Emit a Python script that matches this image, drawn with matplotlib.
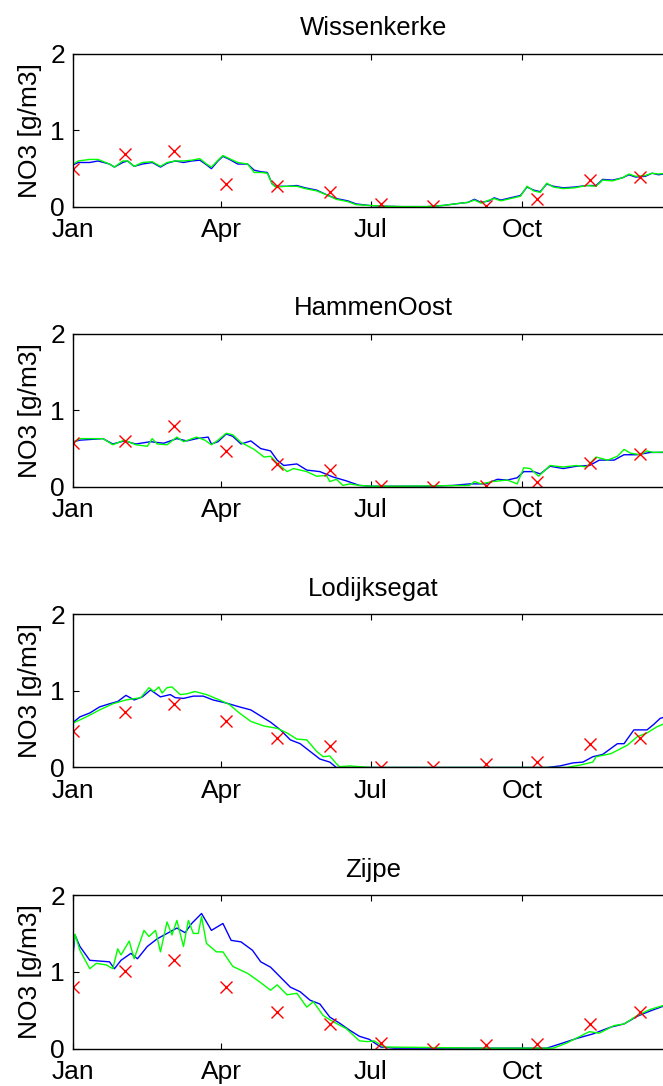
import matplotlib
matplotlib.use("Agg")
import matplotlib.pyplot as plt

plt.rcParams['font.family'] = ['Liberation Sans', 'DejaVu Sans']

stations = ["Wissenkerke", "HammenOost", "Lodijksegat", "Zijpe"]
month_days = [0, 90, 181, 273]
month_labels = ["Jan", "Apr", "Jul", "Oct"]

# measurement days (roughly monthly samples)
obs_days = [0, 31.5, 61, 93, 124, 156, 187, 219, 251, 282, 314, 345]

# --- Wissenkerke ---
w_blue_days = [0, 3, 10, 15, 22, 25, 30, 33, 37, 42, 48, 53, 57, 62, 67, 72, 77, 81, 84, 88,
               91, 95, 100, 106, 110, 114, 118, 121, 123, 130, 136, 141, 148, 155, 160, 167,
               172, 180, 190, 200, 215, 225, 232, 240, 244, 248, 253, 256, 260, 266, 272, 276,
               280, 284, 288, 292, 298, 305, 312, 318, 322, 328, 334, 338, 342, 348, 352, 356, 365]
w_blue = [0.55, 0.58, 0.58, 0.60, 0.56, 0.52, 0.58, 0.60, 0.53, 0.56, 0.58, 0.52, 0.57, 0.60,
          0.58, 0.60, 0.61, 0.55, 0.50, 0.60, 0.66, 0.62, 0.56, 0.56, 0.48, 0.46, 0.45, 0.30,
          0.27, 0.27, 0.28, 0.25, 0.22, 0.15, 0.11, 0.08, 0.04, 0.02, 0.01, 0.005, 0.005, 0.02,
          0.04, 0.06, 0.10, 0.06, 0.08, 0.12, 0.09, 0.12, 0.15, 0.26, 0.22, 0.20, 0.30, 0.27,
          0.25, 0.26, 0.28, 0.28, 0.36, 0.35, 0.38, 0.42, 0.39, 0.40, 0.44, 0.42, 0.45]
w_green = [0.56, 0.60, 0.62, 0.62, 0.56, 0.52, 0.60, 0.60, 0.53, 0.58, 0.59, 0.53, 0.58, 0.60,
           0.60, 0.61, 0.63, 0.56, 0.52, 0.61, 0.67, 0.63, 0.58, 0.56, 0.45, 0.45, 0.44, 0.30,
           0.26, 0.27, 0.27, 0.24, 0.21, 0.15, 0.10, 0.07, 0.03, 0.02, 0.01, 0.005, 0.005, 0.02,
           0.04, 0.06, 0.09, 0.05, 0.09, 0.11, 0.08, 0.11, 0.14, 0.27, 0.21, 0.19, 0.31, 0.26,
           0.24, 0.25, 0.28, 0.27, 0.35, 0.34, 0.38, 0.43, 0.40, 0.41, 0.44, 0.43, 0.45]
w_obs = [0.50, 0.69, 0.73, 0.30, 0.27, 0.20, 0.035, 0.01, 0.01, 0.10, 0.35, 0.39]

# --- HammenOost ---
h_blue_days = [0, 4, 18, 24, 31, 38, 47, 55, 63, 69, 75, 82, 84, 88, 93, 97, 102, 108, 114,
               120, 124, 128, 136, 142, 150, 158, 166, 174, 181, 187, 201, 215, 231, 241, 251,
               258, 264, 270, 274, 280, 284, 290, 298, 306, 314, 320, 329, 335, 343, 351, 365]
h_blue = [0.59, 0.61, 0.63, 0.56, 0.60, 0.56, 0.59, 0.57, 0.63, 0.60, 0.63, 0.65, 0.56, 0.59,
          0.69, 0.66, 0.56, 0.60, 0.50, 0.47, 0.35, 0.28, 0.30, 0.22, 0.20, 0.13, 0.08, 0.02,
          0.01, 0.01, 0.01, 0.01, 0.02, 0.04, 0.04, 0.10, 0.09, 0.12, 0.20, 0.20, 0.17, 0.27,
          0.24, 0.27, 0.28, 0.35, 0.35, 0.42, 0.42, 0.45, 0.45]
h_green_days = [0, 4, 18, 24, 31, 38, 45, 48, 51, 57, 63, 67, 75, 80, 84, 88, 93, 97, 102, 110,
                116, 120, 124, 130, 134, 142, 148, 154, 156, 160, 164, 168, 174, 181, 201, 241,
                244, 248, 255, 264, 270, 274, 278, 283, 290, 298, 306, 312, 318, 325, 331, 335,
                339, 345, 349, 353, 365]
h_green = [0.58, 0.63, 0.63, 0.55, 0.61, 0.55, 0.53, 0.63, 0.56, 0.55, 0.65, 0.59, 0.65, 0.61,
           0.55, 0.61, 0.70, 0.68, 0.58, 0.49, 0.39, 0.40, 0.31, 0.20, 0.24, 0.20, 0.14, 0.15,
           0.07, 0.10, 0.02, 0.04, 0.02, 0.01, 0.01, 0.02, 0.07, 0.04, 0.07, 0.09, 0.04, 0.25,
           0.24, 0.14, 0.28, 0.26, 0.28, 0.26, 0.39, 0.35, 0.40, 0.49, 0.44, 0.42, 0.47, 0.45,
           0.46]
h_obs = [0.57, 0.60, 0.80, 0.47, 0.30, 0.22, 0.01, 0.0, 0.01, 0.07, 0.31, 0.43]

# --- Lodijksegat ---
l_blue_days = [0, 4, 10, 16, 22, 27, 32, 37, 42, 47, 53, 59, 62, 67, 73, 79, 85, 93, 101, 108,
               114, 120, 126, 132, 138, 144, 150, 156, 160, 181, 250, 288, 296, 304, 310, 316,
               322, 331, 335, 341, 349, 353, 357, 365]
l_blue = [0.59, 0.66, 0.71, 0.79, 0.83, 0.86, 0.94, 0.88, 0.92, 1.01, 0.92, 0.95, 0.91, 0.90,
          0.93, 0.93, 0.88, 0.84, 0.79, 0.75, 0.67, 0.59, 0.49, 0.36, 0.31, 0.21, 0.11, 0.07,
          0.0, 0.0, 0.0, 0.0, 0.02, 0.06, 0.07, 0.14, 0.17, 0.31, 0.31, 0.49, 0.49, 0.56, 0.64,
          0.69]
l_green_days = [0, 8, 16, 24, 32, 41, 46, 49, 52, 54, 57, 60, 65, 69, 74, 81, 89, 95, 101, 108,
                116, 124, 130, 136, 142, 148, 152, 156, 160, 162, 168, 181, 250, 300, 308, 316,
                318, 327, 337, 343, 349, 355, 365]
l_green = [0.58, 0.66, 0.75, 0.83, 0.88, 0.91, 1.04, 0.99, 1.05, 0.97, 1.04, 1.05, 0.95, 0.96,
           0.99, 0.95, 0.88, 0.82, 0.71, 0.60, 0.54, 0.51, 0.45, 0.37, 0.36, 0.21, 0.14, 0.15,
           0.05, 0.01, 0.02, 0.0, 0.0, 0.0, 0.03, 0.07, 0.14, 0.18, 0.29, 0.40, 0.45, 0.53, 0.62]
l_obs = [0.48, 0.72, 0.83, 0.61, 0.39, 0.28, 0.0, 0.0, 0.04, 0.07, 0.30, 0.39]

# --- Zijpe ---
z_blue_days = [0, 1, 4, 10, 16, 22, 25, 29, 35, 39, 45, 51, 57, 63, 68, 72, 78, 84, 91, 96, 102,
               109, 114, 120, 126, 132, 138, 144, 150, 156, 162, 168, 174, 180, 187, 195, 250,
               288, 296, 306, 316, 327, 335, 343, 351, 365]
z_blue = [1.26, 1.48, 1.33, 1.15, 1.14, 1.13, 1.04, 1.15, 1.24, 1.17, 1.33, 1.43, 1.50, 1.57,
          1.51, 1.63, 1.76, 1.54, 1.63, 1.41, 1.39, 1.28, 1.13, 1.06, 0.93, 0.80, 0.74, 0.63,
          0.58, 0.41, 0.33, 0.24, 0.16, 0.12, 0.02, 0.005, 0.005, 0.005, 0.06, 0.13, 0.19,
          0.28, 0.32, 0.42, 0.49, 0.60]
z_green_days = [0, 1, 4, 10, 14, 20, 24, 27, 29, 34, 37, 43, 46, 50, 53, 57, 60, 63, 67, 70, 73,
                76, 78, 81, 87, 91, 97, 106, 112, 120, 124, 130, 136, 142, 146, 152, 158, 166,
                174, 179, 183, 189, 250, 292, 300, 312, 314, 320, 329, 335, 343, 351, 365]
z_green = [1.33, 1.49, 1.28, 1.04, 1.11, 1.09, 1.04, 1.30, 1.22, 1.40, 1.17, 1.54, 1.46, 1.54,
           1.26, 1.65, 1.48, 1.67, 1.33, 1.67, 1.50, 1.50, 1.72, 1.37, 1.26, 1.26, 1.07, 0.98,
           0.89, 0.76, 0.83, 0.70, 0.72, 0.54, 0.61, 0.43, 0.35, 0.26, 0.10, 0.09, 0.10, 0.02,
           0.005, 0.005, 0.07, 0.20, 0.22, 0.20, 0.30, 0.32, 0.43, 0.51, 0.60]
z_obs = [0.80, 1.01, 1.15, 0.80, 0.48, 0.32, 0.07, 0.0, 0.05, 0.06, 0.32, 0.47]

panels = [
    (w_blue_days, w_blue, w_blue_days, w_green, w_obs),
    (h_blue_days, h_blue, h_green_days, h_green, h_obs),
    (l_blue_days, l_blue, l_green_days, l_green, l_obs),
    (z_blue_days, z_blue, z_green_days, z_green, z_obs),
]


def main():
    fig = plt.figure(figsize=(6.63, 10.86), dpi=100)
    bottoms = [0.8094, 0.5516, 0.2933, 0.0345]
    for i, name in enumerate(stations):
        bd, bv, gd, gv, obs = panels[i]
        ax = fig.add_axes([0.1106, bottoms[i], 0.905, 0.1413])
        ax.plot(bd, bv, color=(0, 0, 1), lw=1.0)
        ax.plot(gd, gv, color=(0, 1, 0), lw=1.0)
        ax.plot(obs_days, obs, 'x', color='red', ms=8.5, mew=1.0, ls='none')
        ax.set_xlim(0, 365)
        ax.set_ylim(0, 2)
        ax.set_xticks(month_days)
        ax.set_xticklabels(month_labels)
        ax.set_yticks([0, 1, 2])
        ax.tick_params(direction='in', top=True, right=False, length=4,
                       labelsize=19, pad=6)
        ax.tick_params(axis='x', pad=8)
        for s in ax.spines.values():
            s.set_linewidth(1.0)
        ax.set_title(name, fontsize=18.5, pad=13)
        ax.set_ylabel("NO3 [g/m3]", fontsize=19, labelpad=6)
    fig.savefig("out.png", dpi=100)


if __name__ == '__main__':
    main()
